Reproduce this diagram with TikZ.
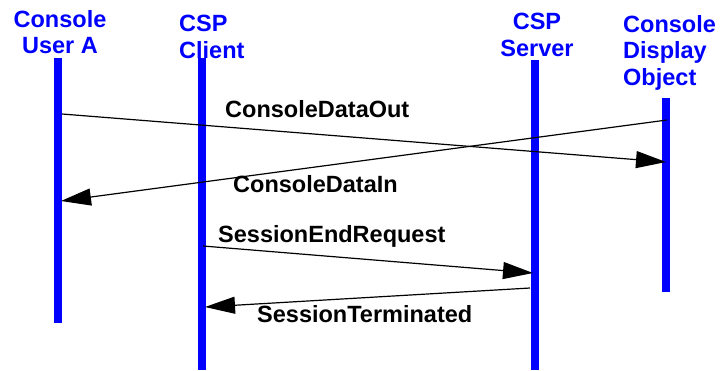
\documentclass[tikz,border=0pt]{standalone}
\usepackage{fontspec}
\setmainfont{Liberation Sans}
\usetikzlibrary{arrows.meta}

\begin{document}
\begin{tikzpicture}[
  x=1pt, y=-1pt,
  >={Triangle[length=30pt,width=17pt]},
  hd/.style={font=\bfseries\fontsize{23.5}{26.5}\selectfont, text=blue, inner sep=0pt},
  msg/.style={font=\bfseries\fontsize{23.5}{26.5}\selectfont, inner sep=0pt, anchor=base west},
  life/.style={draw=blue, line width=8pt},
  call/.style={->, draw=black, line width=1.2pt}]

\useasboundingbox (0,0) rectangle (722,370);

% ===== headers =====
\node[hd, anchor=north, align=center]         (userA)   at (60,10)  {Console\\User A};
\node[hd, anchor=north west, align=left]      (client)  at (179,15) {CSP\\Client};
\node[hd, anchor=north, align=center]         (server)  at (537,13) {CSP\\Server};
\node[hd, anchor=north west, align=left]      (display) at (623,15) {Console\\Display\\Object};

% ===== lifelines =====
\coordinate (userA top)   at (58,58);
\coordinate (userA bot)   at (58,323);
\coordinate (client top)  at (202,58);
\coordinate (client bot)  at (202,370);
\coordinate (server top)  at (535,60);
\coordinate (server bot)  at (535,370);
\coordinate (display top) at (666,98);
\coordinate (display bot) at (666,292);

\draw[life] (userA top) -- (userA bot);
\draw[life] (client top) -- (client bot);
\draw[life] (server top) -- (server bot);
\draw[life] (display top) -- (display bot);

% ===== message ends =====
\coordinate (out a)  at (62,114);
\coordinate (out b)  at (666,162);
\coordinate (in a)   at (667,120);
\coordinate (in b)   at (61,201);
\coordinate (end a)  at (203,246);
\coordinate (end b)  at (533,273);
\coordinate (term a) at (530,288);
\coordinate (term b) at (205,307);

% ===== messages =====
\draw[call] (out a) -- (out b);
\draw[call] (in a) -- (in b);
\draw[call] (end a) -- (end b);
\draw[call] (term a) -- (term b);

\node[msg] (outl)  at (225,117) {ConsoleDataOut};
\node[msg] (inl)   at (233,192) {ConsoleDataIn};
\node[msg] (endl)  at (218,242) {SessionEndRequest};
\node[msg] (terml) at (257,322) {SessionTerminated};

\end{tikzpicture}
\end{document}
